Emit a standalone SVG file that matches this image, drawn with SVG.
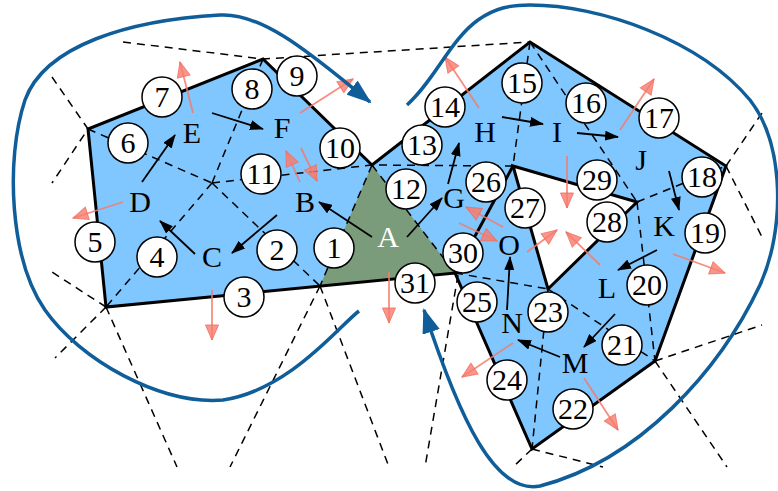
<svg xmlns="http://www.w3.org/2000/svg" width="778" height="491" viewBox="0 0 778 491">
<defs>
<style>
.dash{stroke:#000;stroke-width:1.5;stroke-dasharray:8,6;fill:none}
.edge{stroke:#000;stroke-width:3;fill:none;stroke-linejoin:miter}
.ba{stroke:#000;stroke-width:1.8;fill:none;marker-end:url(#ab)}
.ra{stroke:#f47a6b;stroke-opacity:0.85;stroke-width:1.8;fill:none;marker-end:url(#ar)}
.bl{stroke:#0f5d99;stroke-width:3.5;fill:none;marker-end:url(#abl)}
.nc circle{fill:#fff;stroke:#000;stroke-width:1.5}
.nc text,.lab{font-family:"Liberation Serif","Times New Roman",serif;text-anchor:middle;fill:#000}
.nc text{font-size:30px}
.lab{font-size:30px}
</style>
<marker id="ab" viewBox="0 0 14 10" refX="13" refY="5" markerWidth="14" markerHeight="10" markerUnits="userSpaceOnUse" orient="auto"><path d="M0,0 L14,5 L0,10 z" fill="#000"/></marker>
<marker id="ar" viewBox="0 0 17 15" refX="16" refY="7.5" markerWidth="17" markerHeight="15" markerUnits="userSpaceOnUse" orient="auto"><path d="M1,1 L16,7.5 L1,14 z" fill="#f87c6e" fill-opacity="0.8" stroke="#f36b5c" stroke-opacity="0.8" stroke-width="1"/></marker>
<marker id="abl" viewBox="0 0 25 18" refX="23" refY="9" markerWidth="25" markerHeight="18" markerUnits="userSpaceOnUse" orient="auto"><path d="M0,0 L25,9 L0,18 z" fill="#0f5d99"/></marker>
</defs>
<rect width="778" height="491" fill="#fff"/>
<g id="regions">
<path d="M106,307 L88,129 L263,59 L372,165 L530,42 L726,166 L655,361 L532,449 L455,273 Z" fill="#80c6ff"/>
<path d="M372,165 L320,286 L455,273 Z" fill="#7a9c7a"/>
<path d="M513,166 L637,202 L548,289 Z" fill="#fff"/>
</g>
<g id="dashed" class="dash">
<path d="M123,42 L263,59 L530,42"/>
<path d="M52,77 L88,129 L52,183"/>
<path d="M88,129 L212,183"/>
<path d="M263,59 L212,183"/>
<path d="M212,183 L106,307"/>
<path d="M212,183 L320,286"/>
<path d="M212,183 L372,165 L513,166"/>
<path d="M372,165 L320,286"/>
<path d="M372,165 L455,273"/>
<path d="M106,307 L52,272"/>
<path d="M106,307 L55,358"/>
<path d="M106,307 L177,467"/>
<path d="M320,286 L230,467"/>
<path d="M320,286 L389,467"/>
<path d="M458,275 L425,467"/>
<path d="M455,273 L548,289"/>
<path d="M548,289 L532,449"/>
<path d="M532,449 L513,467"/>
<path d="M532,449 L603,467"/>
<path d="M548,289 L655,361"/>
<path d="M655,361 L762,325"/>
<path d="M655,361 L727,467"/>
<path d="M637,202 L655,361"/>
<path d="M637,202 L726,166"/>
<path d="M726,166 L762,113"/>
<path d="M726,166 L762,237"/>
<path d="M530,42 L513,166"/>
<path d="M530,42 L637,202"/>
</g>
<g id="edges" class="edge">
<path d="M106,307 L88,129 L263,59 L372,165 L530,42 L726,166 L655,361 L532,449 L455,273 Z"/>
<path d="M513,166 L637,202 L548,289 Z"/>
<path d="M513,166 L455,273"/>
</g>
<g id="connectors">
<path class="ba" d="M142,182 L175,135"/>
<path class="ba" d="M212,113 L263,129"/>
<path class="ba" d="M195,254 L160,221"/>
<path class="ba" d="M277,215 L232,253"/>
<path class="ba" d="M372,237 L319,202"/>
<path class="ba" d="M407,237 L442,198"/>
<path class="ba" d="M448,184 L459,143"/>
<path class="ba" d="M502,117 L543,124"/>
<path class="ba" d="M577,133 L618,137"/>
<path class="ba" d="M669,171 L679,210"/>
<path class="ba" d="M657,250 L618,270"/>
<path class="ba" d="M615,314 L584,347"/>
<path class="ba" d="M560,357 L518,340"/>
<path class="ba" d="M507,310 L510,257"/>
<path class="ra" d="M193,113 L180,62"/>
<path class="ra" d="M300,113 L353,79"/>
<path class="ra" d="M300,182 L286,151"/>
<path class="ra" d="M301,148 L317,181"/>
<path class="ra" d="M123,202 L73,218"/>
<path class="ra" d="M212,290 L212,340"/>
<path class="ra" d="M389,272 L389,323"/>
<path class="ra" d="M479,108 L445,57"/>
<path class="ra" d="M620,130 L654,79"/>
<path class="ra" d="M567,156 L567,208"/>
<path class="ra" d="M527,252 L557,230"/>
<path class="ra" d="M600,265 L566,232"/>
<path class="ra" d="M503,227 L466,207"/>
<path class="ra" d="M459,223 L497,241"/>
<path class="ra" d="M673,254 L725,273"/>
<path class="ra" d="M584,378 L618,430"/>
<path class="ra" d="M513,343 L462,377"/>
</g>
<g class="nc">
<g id="n1"><circle cx="334" cy="248" r="20"/><text x="334" y="258">1</text></g>
<g id="n2"><circle cx="277" cy="250" r="20"/><text x="277" y="260">2</text></g>
<g id="n3"><circle cx="244" cy="297" r="20"/><text x="244" y="307">3</text></g>
<g id="n4"><circle cx="157" cy="257" r="20"/><text x="157" y="267">4</text></g>
<g id="n5"><circle cx="95" cy="242" r="20"/><text x="95" y="252">5</text></g>
<g id="n6"><circle cx="128" cy="143" r="20"/><text x="128" y="153">6</text></g>
<g id="n7"><circle cx="162" cy="97" r="20"/><text x="162" y="107">7</text></g>
<g id="n8"><circle cx="252" cy="89" r="20"/><text x="252" y="99">8</text></g>
<g id="n9"><circle cx="297" cy="76" r="20"/><text x="297" y="86">9</text></g>
<g id="n10"><circle cx="340" cy="148" r="20"/><text x="340" y="158">10</text></g>
<g id="n11"><circle cx="261" cy="174" r="20"/><text x="261" y="184">11</text></g>
<g id="n12"><circle cx="406" cy="189" r="20"/><text x="406" y="199">12</text></g>
<g id="n13"><circle cx="422" cy="145" r="20"/><text x="422" y="155">13</text></g>
<g id="n14"><circle cx="445" cy="107" r="20"/><text x="445" y="117">14</text></g>
<g id="n15"><circle cx="522" cy="83" r="20"/><text x="522" y="93">15</text></g>
<g id="n16"><circle cx="586" cy="103" r="20"/><text x="586" y="113">16</text></g>
<g id="n17"><circle cx="659" cy="118" r="20"/><text x="659" y="128">17</text></g>
<g id="n18"><circle cx="702" cy="177" r="20"/><text x="702" y="187">18</text></g>
<g id="n19"><circle cx="705" cy="233" r="20"/><text x="705" y="243">19</text></g>
<g id="n20"><circle cx="647" cy="285" r="20"/><text x="647" y="295">20</text></g>
<g id="n21"><circle cx="622" cy="345" r="20"/><text x="622" y="355">21</text></g>
<g id="n22"><circle cx="573" cy="409" r="20"/><text x="573" y="419">22</text></g>
<g id="n23"><circle cx="548" cy="312" r="20"/><text x="548" y="322">23</text></g>
<g id="n24"><circle cx="507" cy="380" r="20"/><text x="507" y="390">24</text></g>
<g id="n25"><circle cx="477" cy="302" r="20"/><text x="477" y="312">25</text></g>
<g id="n26"><circle cx="486" cy="182" r="20"/><text x="486" y="192">26</text></g>
<g id="n27"><circle cx="525" cy="208" r="20"/><text x="525" y="218">27</text></g>
<g id="n28"><circle cx="607" cy="222" r="20"/><text x="607" y="232">28</text></g>
<g id="n29"><circle cx="597" cy="180" r="20"/><text x="597" y="190">29</text></g>
<g id="n30"><circle cx="463" cy="253" r="20"/><text x="463" y="263">30</text></g>
<g id="n31"><circle cx="415" cy="283" r="20"/><text x="415" y="293">31</text></g>
</g>
<g id="cells">
<g id="cA"><text class="lab" x="388" y="247" style="fill:#fff">A</text></g>
<g id="cB"><text class="lab" x="305" y="212">B</text></g>
<g id="cC"><text class="lab" x="212" y="267">C</text></g>
<g id="cD"><text class="lab" x="140" y="212">D</text></g>
<g id="cE"><text class="lab" x="192" y="143">E</text></g>
<g id="cF"><text class="lab" x="282" y="138">F</text></g>
<g id="cG"><text class="lab" x="454" y="208">G</text></g>
<g id="cH"><text class="lab" x="485" y="142">H</text></g>
<g id="cI"><text class="lab" x="557" y="142">I</text></g>
<g id="cJ"><text class="lab" x="641" y="170">J</text></g>
<g id="cK"><text class="lab" x="664" y="236">K</text></g>
<g id="cL"><text class="lab" x="607" y="298">L</text></g>
<g id="cM"><text class="lab" x="575" y="373">M</text></g>
<g id="cN"><text class="lab" x="512" y="333">N</text></g>
<g id="cO"><text class="lab" x="509" y="255">O</text></g>
</g>
<g id="flows">
<path class="bl" d="M359,311 C340,325 290,390 223,400 C160,405 80,360 45,310 C10,260 5,160 25,100 C45,45 130,20 220,15 C265,12 320,62 370,102"/>
<path class="bl" d="M407,105 C435,80 450,40 478,20 C495,8 510,5 530,5 C600,5 700,40 750,100 C785,145 785,230 760,285 C720,370 640,460 540,486 C495,495 460,420 424,310"/>
</g>
</svg>
